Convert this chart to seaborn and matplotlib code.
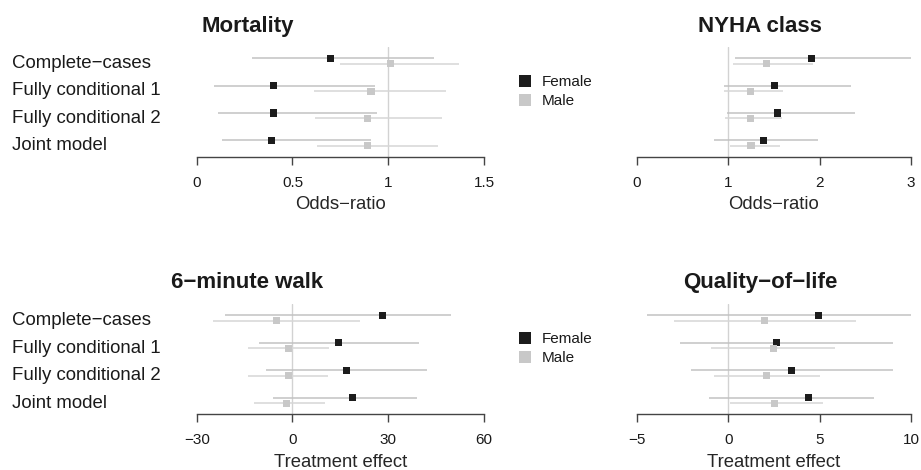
import matplotlib
matplotlib.use("Agg")
import matplotlib.pyplot as plt
import matplotlib.transforms as mtransforms
from matplotlib.lines import Line2D
import numpy as np
import pandas as pd
import seaborn as sns

# ---- data ----
methods = ["Complete\u2212cases", "Fully conditional 1", "Fully conditional 2", "Joint model"]

mort_f_est = [0.70, 0.40, 0.40, 0.39]
mort_f_lo = [0.29, 0.09, 0.11, 0.13]
mort_f_hi = [1.24, 0.93, 0.94, 0.91]
mort_m_est = [1.01, 0.91, 0.89, 0.89]
mort_m_lo = [0.75, 0.61, 0.62, 0.63]
mort_m_hi = [1.37, 1.30, 1.28, 1.26]

nyha_f_est = [1.91, 1.51, 1.54, 1.39]
nyha_f_lo = [1.08, 0.96, 0.99, 0.85]
nyha_f_hi = [3.00, 2.34, 2.39, 1.98]
nyha_m_est = [1.42, 1.24, 1.24, 1.25]
nyha_m_lo = [1.05, 0.96, 0.97, 1.02]
nyha_m_hi = [1.93, 1.60, 1.59, 1.57]

walk_f_est = [28.2, 14.3, 16.9, 18.7]
walk_f_lo = [-21.0, -10.6, -8.2, -6.0]
walk_f_hi = [49.6, 39.6, 42.3, 39.1]
walk_m_est = [-5.0, -1.1, -1.3, -1.8]
walk_m_lo = [-24.9, -13.8, -13.8, -12.0]
walk_m_hi = [21.3, 11.4, 11.2, 10.1]

qol_f_est = [4.96, 2.65, 3.47, 4.41]
qol_f_lo = [-4.41, -2.64, -2.04, -1.02]
qol_f_hi = [10.0, 8.99, 9.03, 7.97]
qol_m_est = [2.01, 2.46, 2.12, 2.54]
qol_m_lo = [-2.95, -0.93, -0.78, 0.09]
qol_m_hi = [6.99, 5.82, 5.02, 5.18]

or_ticks = [0, 0.5, 1, 1.5]
or_ticklabels = ["0", "0.5", "1", "1.5"]
nyha_ticks = [0, 1, 2, 3]
nyha_ticklabels = ["0", "1", "2", "3"]
walk_ticks = [-30, 0, 30, 60]
walk_ticklabels = ["\u221230", "0", "30", "60"]
qol_ticks = [-5, 0, 5, 10]
qol_ticklabels = ["\u22125", "0", "5", "10"]

sexes = ["Female", "Male"]
point_pal = {"Female": "#1c1c1c", "Male": "#c8c8c8"}
line_pal = {"Female": "#c2c2c2", "Male": "#d6d6d6"}

sns.set_style("white")
plt.rcParams["font.family"] = ["Liberation Sans", "DejaVu Sans"]
plt.rcParams["text.color"] = "#1a1a1a"

W, H = 921, 470
fig = plt.figure(figsize=(W / 100, H / 100), dpi=100)


def make_df(fe, fl, fh, me, ml, mh):
    rows = []
    for i, m in enumerate(methods):
        rows.append(dict(method=m, sex="Female", est=fe[i], lo=fl[i], hi=fh[i], y=i - 0.1))
        rows.append(dict(method=m, sex="Male", est=me[i], lo=ml[i], hi=mh[i], y=i + 0.1))
    return pd.DataFrame(rows)


panels = [
    dict(title="Mortality", xlabel="Odds\u2212ratio", ref=1,
         ticks=or_ticks, ticklabels=or_ticklabels, box=(196.7, 484, 47, 156.5),
         title_xy=(247.5, 31.7), legend_y=91.7, labels=True,
         df=make_df(mort_f_est, mort_f_lo, mort_f_hi, mort_m_est, mort_m_lo, mort_m_hi)),
    dict(title="NYHA class", xlabel="Odds\u2212ratio", ref=1,
         ticks=nyha_ticks, ticklabels=nyha_ticklabels, box=(636.7, 911, 47, 156.5),
         title_xy=(760, 31.7), legend_y=None, labels=False,
         df=make_df(nyha_f_est, nyha_f_lo, nyha_f_hi, nyha_m_est, nyha_m_lo, nyha_m_hi)),
    dict(title="6\u2212minute walk", xlabel="Treatment effect", ref=0,
         ticks=walk_ticks, ticklabels=walk_ticklabels, box=(196.7, 484, 304, 414),
         title_xy=(247.5, 288), legend_y=348.7, labels=True,
         df=make_df(walk_f_est, walk_f_lo, walk_f_hi, walk_m_est, walk_m_lo, walk_m_hi)),
    dict(title="Quality\u2212of\u2212life", xlabel="Treatment effect", ref=0,
         ticks=qol_ticks, ticklabels=qol_ticklabels, box=(636.7, 911, 304, 414),
         title_xy=(760, 288), legend_y=None, labels=False,
         df=make_df(qol_f_est, qol_f_lo, qol_f_hi, qol_m_est, qol_m_lo, qol_m_hi)),
]

for p in panels:
    l, r, t, b = p["box"]
    ax = fig.add_axes([l / W, 1 - b / H, (r - l) / W, (b - t) / H])
    df = p["df"]
    ax.axvline(p["ref"], color="#d2d2d2", lw=1.0, zorder=1)
    ax.hlines(df["y"], df["lo"], df["hi"], colors=df["sex"].map(line_pal), lw=1.1, zorder=2)
    sns.scatterplot(data=df, x="est", y="y", hue="sex", palette=point_pal, marker="s",
                    s=26, linewidth=0, legend=False, ax=ax, zorder=3)
    ax.set_xlim(p["ticks"][0], p["ticks"][-1])
    ax.set_ylim(3.49, -0.51)
    ax.set_xticks(p["ticks"])
    ax.set_xticklabels(p["ticklabels"])
    ax.set_yticks([])
    ax.set_ylabel("")
    ax.set_xlabel(p["xlabel"], fontsize=13.3, labelpad=4.5)
    for s in ["left", "right", "top"]:
        ax.spines[s].set_visible(False)
    ax.spines["bottom"].set_color("#444444")
    ax.spines["bottom"].set_linewidth(1.0)
    ax.tick_params(axis="x", bottom=True, direction="out", length=6, width=1,
                   color="#444444", labelsize=11, pad=8, labelcolor="#1a1a1a")
    ax.patch.set_alpha(0)

    tx, ty = p["title_xy"]
    fig.text(tx / W, 1 - ty / H, p["title"], ha="center", va="baseline",
             fontsize=16, fontweight="bold")

    if p["labels"]:
        trans = mtransforms.blended_transform_factory(fig.transFigure, ax.transData)
        trans = mtransforms.offset_copy(trans, fig=fig, y=-7, units="dots")
        for i, m in enumerate(methods):
            ax.text(12 / W, i, m, transform=trans, ha="left", va="baseline",
                    fontsize=13.4, clip_on=False)

    if p["legend_y"] is not None:
        handles = [Line2D([], [], marker="s", linestyle="none", markersize=8.4,
                          markerfacecolor=point_pal[s], markeredgewidth=0) for s in sexes]
        fig.legend(handles, sexes, loc="center left",
                   bbox_to_anchor=(517.4 / W, 1 - p["legend_y"] / H),
                   frameon=False, fontsize=11, handlelength=1.0, handletextpad=0.6,
                   borderpad=0, borderaxespad=0, labelspacing=0.35)

fig.savefig("out.png", dpi=100)
